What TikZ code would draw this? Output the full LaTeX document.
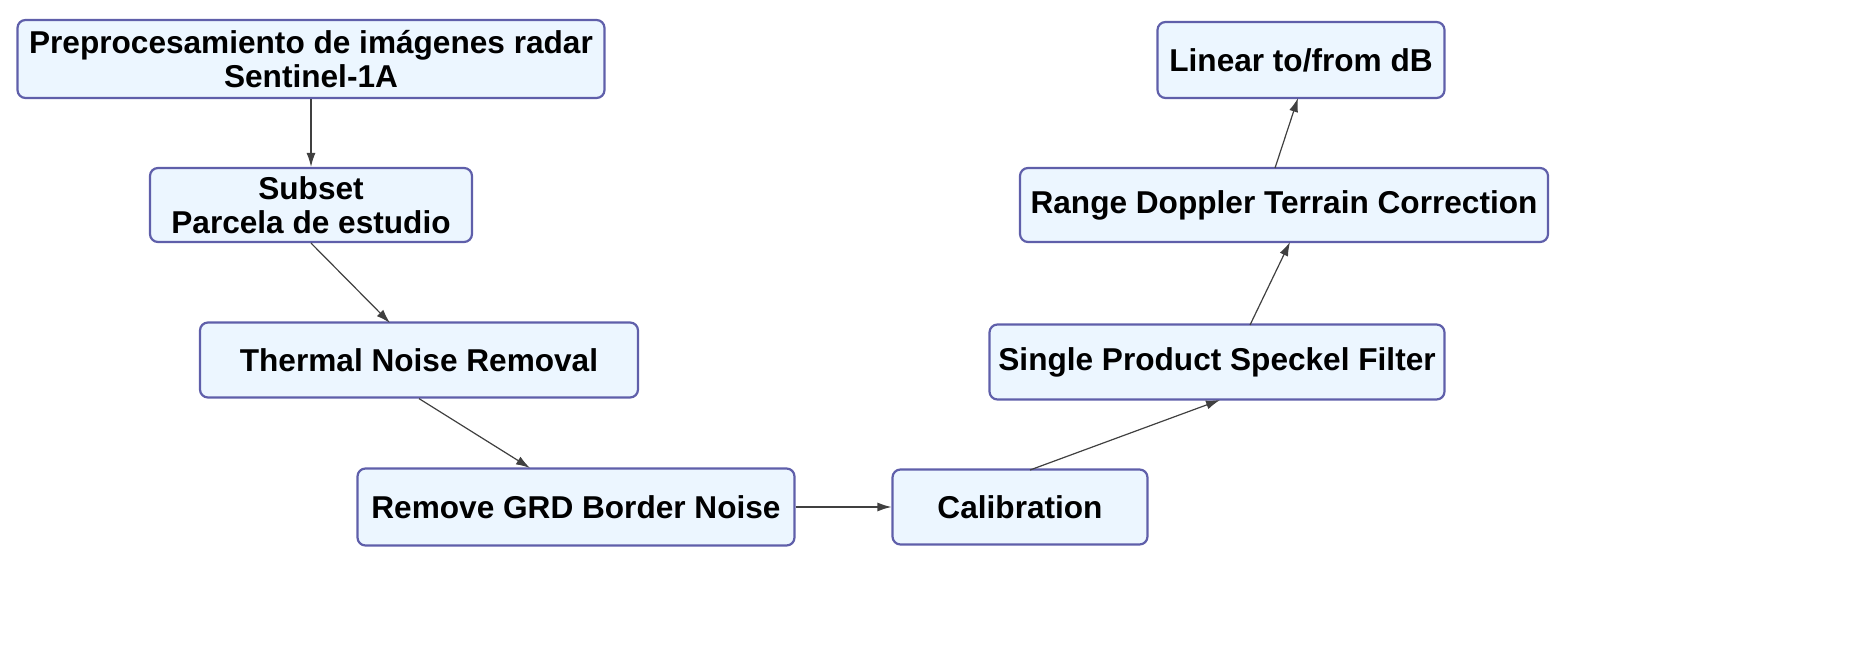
\documentclass[tikz,border=0pt]{standalone}
\usepackage{fontspec}
\setmainfont{Liberation Sans}
\usetikzlibrary{arrows.meta}
\definecolor{bfill}{RGB}{236,246,255}
\definecolor{bdraw}{RGB}{95,95,170}
\begin{document}
\begin{tikzpicture}[x=0.5pt,y=-0.5pt,
 box/.style={draw=bdraw,line width=1.1pt,fill=bfill,rounded corners=4pt,align=center,font=\fontsize{15.8}{17}\selectfont\bfseries,inner sep=0pt},
 arr/.style={draw=black!75,line width=0.6pt,-{Latex[length=7pt,width=4.5pt]}}]
\useasboundingbox (0,0) rectangle (1855,672);
\node[box,minimum width=293.5pt,minimum height=39pt] (a) at (311,59) {Preprocesamiento de imágenes radar\\Sentinel-1A};
\node[box,minimum width=161pt,minimum height=37pt] (b) at (311,205) {Subset\\Parcela de estudio};
\node[box,minimum width=219pt,minimum height=37.5pt] (c) at (419,360) {Thermal Noise Removal};
\node[box,minimum width=218.5pt,minimum height=38.5pt] (d) at (576,507) {Remove GRD Border Noise};
\node[box,minimum width=127.5pt,minimum height=37.5pt] (e) at (1020,507) {Calibration};
\node[box,minimum width=227.5pt,minimum height=37.5pt] (f) at (1217,362) {Single Product Speckel Filter};
\node[box,minimum width=264pt,minimum height=37pt] (g) at (1284,205) {Range Doppler Terrain Correction};
\node[box,minimum width=143.5pt,minimum height=38pt] (h) at (1301,60) {Linear to/from dB};
\draw[arr] (a) -- (b);
\draw[arr] (b.south) -- (390,323);
\draw[arr] (c.south) -- (530,468);
\draw[arr] (d) -- (e);
\draw[arr] (1030,470) -- (1220,400);
\draw[arr] (1250,325) -- (1290,242);
\draw[arr] (1275,168) -- (1298,98);
\end{tikzpicture}
\end{document}
